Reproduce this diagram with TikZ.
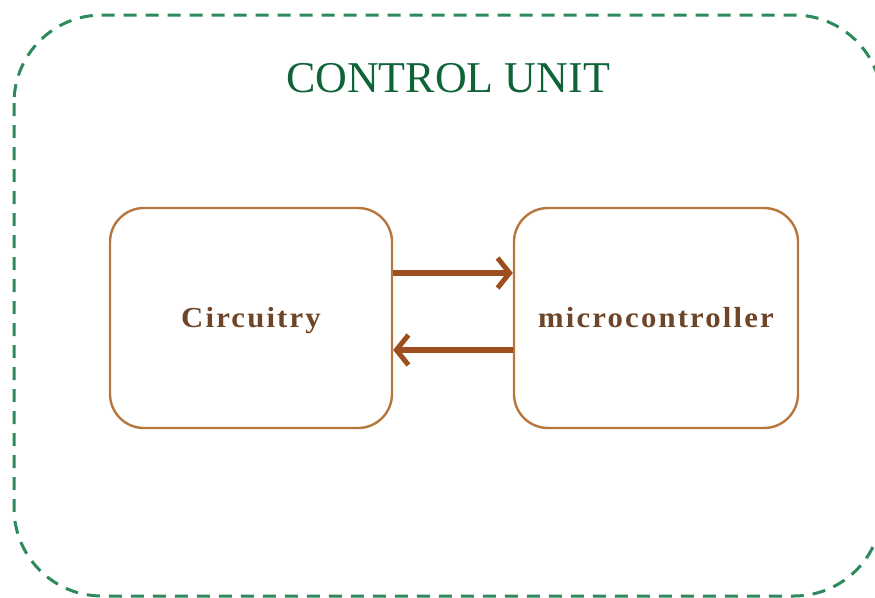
\documentclass[tikz,border=0pt]{standalone}
\usepackage{fontspec}
\setmainfont{Liberation Serif}
\newfontfamily\labelfont[LetterSpace=7]{Liberation Serif}
\usetikzlibrary{arrows.meta}
\definecolor{unitgreen}{HTML}{2C8A5C}
\definecolor{titlegreen}{HTML}{0E6437}
\definecolor{boxbrown}{HTML}{B7763C}
\definecolor{arrowbrown}{HTML}{9E4E1E}
\definecolor{textbrown}{HTML}{6E4528}
\tikzset{
  unitframe/.style={draw=unitgreen, line width=3pt, dash pattern=on 13pt off 9pt, rounded corners=88pt},
  blockbox/.style={draw=boxbrown, line width=2.4pt, rounded corners=34pt, fill=white},
  blocklabel/.style={text=textbrown, font=\labelfont\bfseries\fontsize{29}{32}\selectfont},
  flow/.style={draw=arrowbrown, line width=5.5pt, -{Straight Barb[length=12pt, width=30pt, line width=5pt]}}
}
\begin{document}
\begin{tikzpicture}[x=1pt, y=-1pt]
  \useasboundingbox (0,0) rectangle (875,597);
  % dashed frame of the unit
  \draw[unitframe] (14,15) rectangle (882,596);
  \node[text=titlegreen, font=\fontsize{44}{48}\selectfont, anchor=base] (title) at (448,92) {CONTROL UNIT};
  % the two blocks
  \node[blockbox, minimum width=282pt, minimum height=220pt] (circ) at (251,318) {};
  \node[blockbox, minimum width=284pt, minimum height=220pt] (mcu) at (656,318) {};
  \node[blocklabel, anchor=base, xscale=1.06] (circtext) at ([yshift=-9pt]circ.center) {Circuitry};
  \node[blocklabel, anchor=base, xscale=1.06] (mcutext) at ([yshift=-9pt]mcu.center) {microcontroller};
  % data flow between them
  \draw[flow] ([yshift=45pt]circ.east) -- ([yshift=45pt]mcu.west);
  \draw[flow] ([yshift=-32pt]mcu.west) -- ([yshift=-32pt]circ.east);
\end{tikzpicture}
\end{document}
